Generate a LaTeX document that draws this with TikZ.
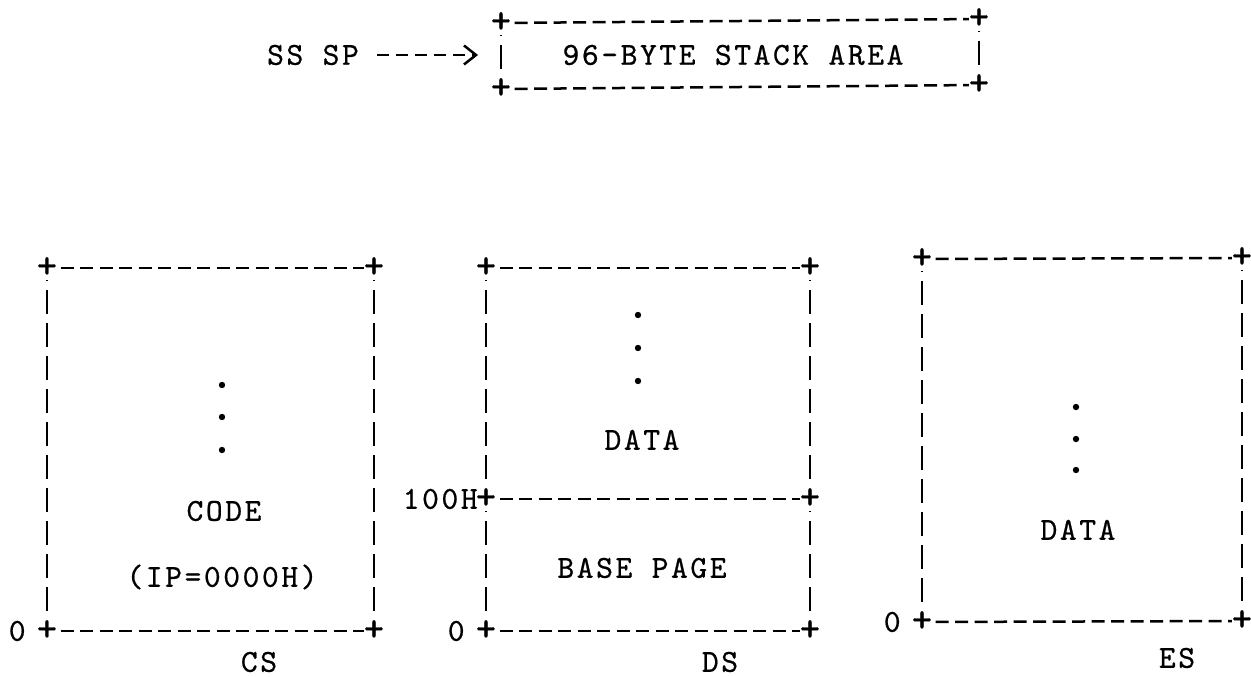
\documentclass[tikz,border=0pt]{standalone}
\usepackage{fontspec}
\newfontfamily\typewr[LetterSpace=8,FakeBold=0.6]{lmmono10-regular.otf}
\newfontfamily\plainmono[FakeBold=1]{lmmono10-regular.otf}
\usetikzlibrary{positioning}
\usetikzlibrary{arrows.meta}

\begin{document}
\begin{tikzpicture}[x=1pt,y=-1pt,
							txt/.style={font=\typewr\fontsize{32}{36}\selectfont, inner sep=0pt, text height=19.5pt, text depth=0pt},
							crn/.style={font=\plainmono\fontsize{38}{42}\selectfont, inner sep=0pt, text height=19pt, text depth=0pt},
							hline/.style={line width=2.5pt, dash pattern=on 13pt off 6.5pt, dash phase=16pt},
							vline/.style={line width=2.5pt, dash pattern=on 24pt off 9pt, dash phase=23pt, shorten <=12pt, shorten >=12pt},
							sarrow/.style={line width=2.5pt, dash pattern=on 12pt off 7pt, shorten <=18pt, -{Straight Barb[length=12pt,width=19pt]}},
							]
							\useasboundingbox (0,0) rectangle (1251,677);
							%Stack area
							\node[crn]      (st-nw) 	at	(501,23) 		{+};
							\node[crn]      (st-ne) 	at	(979,19) 		{+};
							\node[crn]      (st-sw) 	at	(501,89) 		{+};
							\node[crn]      (st-se) 	at	(979,85) 		{+};
							\node[txt]      (stack) 	at	(733,55) 		{96-BYTE STACK AREA};
							\node[txt]      (sssp) 	at	(313,55) 		{SS SP};
							\coordinate     (sstip)    at  (478,55);
							%Code segment
							\node[crn]      (cs-nw) 	at	(47,268) 		{+};
							\node[crn]      (cs-ne) 	at	(374,268) 		{+};
							\node[crn]      (cs-sw) 	at	(47,631) 		{+};
							\node[crn]      (cs-se) 	at	(374,631) 		{+};
							\node[txt]      (code) 	at	(224,511) 		{CODE};
							\node[txt]      (ip) 	at	(222,577) 		{(IP=0000H)};
							\node[txt, left=11pt of cs-sw]      (cs-zero) 		{0};
							\node[txt]      (cs) 	at	(259,662) 		{CS};
							%Data segment
							\node[crn]      (ds-nw) 	at	(486,268) 		{+};
							\node[crn]      (ds-ne) 	at	(810,268) 		{+};
							\node[crn]      (ds-mw) 	at	(486,499) 		{+};
							\node[crn]      (ds-me) 	at	(810,499) 		{+};
							\node[crn]      (ds-sw) 	at	(486,631) 		{+};
							\node[crn]      (ds-se) 	at	(810,631) 		{+};
							\node[txt]      (ds-data) 	at	(642,440) 		{DATA};
							\node[txt]      (base) 	at	(642,568) 		{BASE PAGE};
							\node[txt, left=-2pt of ds-mw]      (hundred) 		{100H};
							\node[txt, left=11pt of ds-sw]      (ds-zero) 		{0};
							\node[txt]      (ds) 	at	(720,662) 		{DS};
							%Extra segment
							\node[crn]      (es-nw) 	at	(922,259) 		{+};
							\node[crn]      (es-ne) 	at	(1242,258) 		{+};
							\node[crn]      (es-sw) 	at	(922,622) 		{+};
							\node[crn]      (es-se) 	at	(1242,621) 		{+};
							\node[txt]      (es-data) 	at	(1078,530) 		{DATA};
							\node[txt, left=11pt of es-sw]      (es-zero) 		{0};
							\node[txt]      (es) 	at	(1177,658) 		{ES};

							%Lines
							\draw[hline] (st-nw) -- (st-ne);
							\draw[hline] (st-sw) -- (st-se);
							\draw[vline] (st-nw.center) -- (st-sw.center);
							\draw[vline] (st-ne.center) -- (st-se.center);
							\draw[sarrow] (sssp) -- (sstip);

							\draw[hline] (cs-nw) -- (cs-ne);
							\draw[hline] (cs-sw) -- (cs-se);
							\draw[vline] (cs-nw.center) -- (cs-sw.center);
							\draw[vline] (cs-ne.center) -- (cs-se.center);

							\draw[hline] (ds-nw) -- (ds-ne);
							\draw[hline] (ds-mw) -- (ds-me);
							\draw[hline] (ds-sw) -- (ds-se);
							\draw[vline] (ds-nw.center) -- (ds-mw.center);
							\draw[vline] (ds-mw.center) -- (ds-sw.center);
							\draw[vline] (ds-ne.center) -- (ds-me.center);
							\draw[vline] (ds-me.center) -- (ds-se.center);

							\draw[hline] (es-nw) -- (es-ne);
							\draw[hline] (es-sw) -- (es-se);
							\draw[vline] (es-nw.center) -- (es-sw.center);
							\draw[vline] (es-ne.center) -- (es-se.center);

							%Dots
							\foreach \y in {385,417,450} \fill (222,\y) circle (3.2pt);
							\foreach \y in {315,348,381} \fill (638,\y) circle (3.2pt);
							\foreach \y in {407,439,470} \fill (1076,\y) circle (3.2pt);
\end{tikzpicture}
\end{document}
